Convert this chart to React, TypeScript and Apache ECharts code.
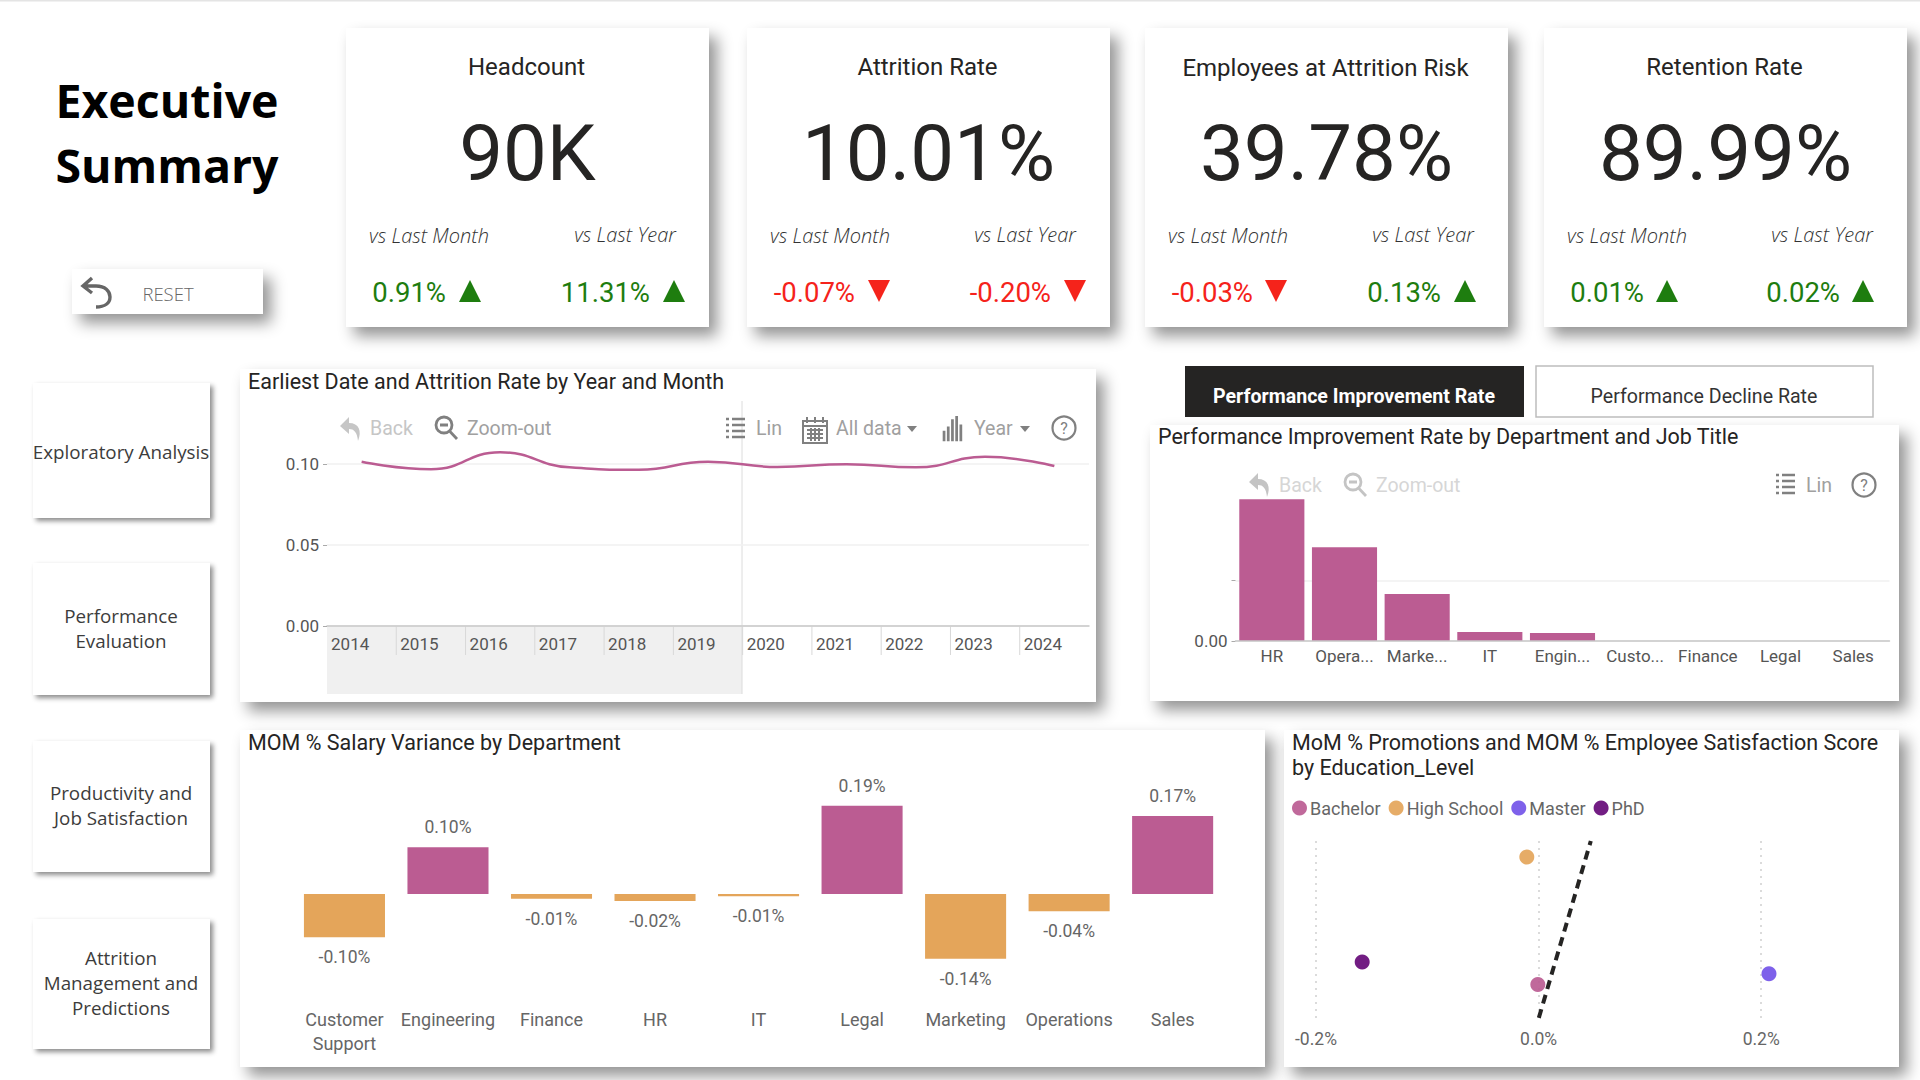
import React, { useEffect, useRef } from "react";
import * as echarts from "echarts";

// ---------- data ----------
const years = ["2014", "2015", "2016", "2017", "2018", "2019", "2020", "2021", "2022", "2023", "2024"];
const attritionRate = [0.1015, 0.0969, 0.1073, 0.098, 0.0965, 0.1015, 0.0983, 0.1, 0.098, 0.1045, 0.0988];
const perfDepartments = ["HR", "Opera...", "Marke...", "IT", "Engin...", "Custo...", "Finance", "Legal", "Sales"];
const perfImprovement = [0.1175, 0.0777, 0.039, 0.0075, 0.0066, 0, 0, 0, 0];
const salaryDepartments = ["Customer\nSupport", "Engineering", "Finance", "HR", "IT", "Legal", "Marketing", "Operations", "Sales"];
const salaryVariance = [-0.0952, 0.1026, -0.0102, -0.0154, -0.0051, 0.194, -0.142, -0.038, 0.1714];
const educationLevels = ["Bachelor", "High School", "Master", "PhD"];
const promotionsMoM = [-0.0007, -0.0106, 0.207, -0.1585];
const satisfactionMoM = [0.0245, 0.4466, 0.0597, 0.0985];
const trendX = [0.0002, 0.0469];
const trendY = [-0.0862, 0.5];
const kpiTitles = ["Headcount", "Attrition Rate", "Employees at Attrition Risk", "Retention Rate"];
const kpiValues = ["90K", "10.01%", "39.78%", "89.99%"];
const kpiMonth = ["0.91%", "-0.07%", "-0.03%", "0.01%"];
const kpiYear = ["11.31%", "-0.20%", "0.13%", "0.02%"];
const navItems = ["Exploratory Analysis", "Performance\nEvaluation", "Productivity and\nJob Satisfaction", "Attrition\nManagement and\nPredictions"];

// ---------- styles ----------
const PINK = "#BB5C92";
const ORANGE = "#E4A55A";
const GREEN = "#1E7D0F";
const RED = "#F5231B";
const DIN = "Roboto, sans-serif";
const SEGOE = "'Open Sans', sans-serif";
const eduColors = ["#BB5C92", "#E4A55A", "#7354E8", "#660A78"];

// ---------- icons ----------
const icons: Record<string, string> = {
  icBack: "M9 0 L0 9 L9 17 V12 C14 12 17 15 18 24 C22 14 19 6 9 6 Z",
  icZoom: "M9 1 A8 8 0 1 0 9 17 A8 8 0 1 0 9 1 M14.5 15 L22 23 M5 9 H13",
  icList: "M0 1 H3 M6 1 H19 M0 7 H3 M6 7 H19 M0 13 H3 M6 13 H19 M0 19 H3 M6 19 H19",
  icCal: "M1 4 H25 V26 H1 Z M1 9 H25 M5 0 V6 M13 0 V6 M21 0 V6 M5 13 H21 M5 17 H21 M5 21 H21 M9 11 V24 M13 11 V24 M17 11 V24",
  icBars: "M1 24 V14 M5 24 V10 M9 24 V3 M13 24 V0 M17 24 V8",
  icReset: "M11 1 L2 9 L11 16 M2 9 H15 C24 9 29 14 29 20 C29 26 24 30 15 30",
};
Object.keys(icons).forEach((k) => echarts.graphic.registerShape(k, echarts.graphic.extendPath(icons[k], {})));

const shadow = { shadowBlur: 15, shadowColor: "rgba(0,0,0,0.42)", shadowOffsetX: 8, shadowOffsetY: 9 };
const smallShadow = { shadowBlur: 5, shadowColor: "rgba(0,0,0,0.45)", shadowOffsetX: 3, shadowOffsetY: 3 };

function card(x: number, y: number, w: number, h: number, sh: any = shadow) {
  return { type: "rect", z: 0, silent: true, shape: { x, y, width: w, height: h }, style: { fill: "#fff", ...sh } };
}
function label(text: string, x: number, y: number, fontSize: number, fill: string, extra: any = {}) {
  return {
    type: "text", z: 10, silent: true, x, y,
    style: { text, fontSize, fill, fontFamily: DIN, align: "center", verticalAlign: "middle", ...extra },
  };
}
function triangle(x: number, up: boolean) {
  const t = 280, b = 302, w = 22;
  const pts = up
    ? [[x, b], [x + w / 2, t], [x + w, b]]
    : [[x, t], [x + w, t], [x + w / 2, b]];
  return { type: "polygon", z: 10, silent: true, shape: { points: pts }, style: { fill: up ? GREEN : RED } };
}
function icon(type: string, x: number, y: number, color: string, s = 1, filled = false, lw = 2) {
  return {
    type, z: 10, silent: true, x, y, scaleX: s, scaleY: s,
    style: filled ? { fill: color, stroke: "none" } : { fill: "none", stroke: color, lineWidth: lw },
  };
}
function caret(x: number, y: number, color: string) {
  return { type: "polygon", z: 10, silent: true, shape: { points: [[x, y], [x + 10, y], [x + 5, y + 6]] }, style: { fill: color } };
}
function helpIcon(cx: number, cy: number, color: string) {
  return [
    { type: "circle", z: 10, silent: true, shape: { cx, cy, r: 11.5 }, style: { fill: "none", stroke: color, lineWidth: 2.2 } },
    label("?", cx, cy, 16, color),
  ];
}

function buildGraphics() {
  const els: any[] = [];
  // top edge
  els.push({ type: "rect", z: 0, silent: true, shape: { x: 0, y: 0, width: 1920, height: 1.5 }, style: { fill: "#e4e4e4" } });

  // heading
  els.push(label("Executive", 167, 100, 46.5, "#000", { fontFamily: SEGOE, fontWeight: 700 }));
  els.push(label("Summary", 167, 165, 46.5, "#000", { fontFamily: SEGOE, fontWeight: 700 }));

  // reset
  els.push(card(72, 269, 191, 45));
  els.push(icon("icReset", 81, 277, "#666", 1, false, 3.4));
  els.push(label("RESET", 168, 293, 18.5, "#666", { fontFamily: SEGOE, fontWeight: 300 }));

  // KPI cards
  const cardX = [346, 747, 1145, 1544];
  const monthX = [429, 830, 1228, 1627];
  const yearX = [625, 1025, 1423, 1822];
  const pctMonthR = [446, 855, 1253, 1644];
  const pctYearR = [650, 1051, 1441, 1840];
  const triMonth = [459, 868, 1265, 1656];
  const triYear = [663, 1064, 1454, 1852];
  kpiTitles.forEach((t, i) => {
    const x = cardX[i];
    const cx = x + 181.5;
    els.push(card(x, 28, 363, 299));
    els.push(label(t, cx - 1, i === 2 ? 68 : 67, 24, "#252423"));
    els.push(label(kpiValues[i], cx, 153, 78, "#252423"));
    els.push(label("vs Last Month", monthX[i], 235, 20, "#333", { fontFamily: SEGOE, fontStyle: "italic", fontWeight: 300 }));
    els.push(label("vs Last Year", yearX[i], 234, 20, "#333", { fontFamily: SEGOE, fontStyle: "italic", fontWeight: 300 }));
    const mUp = !kpiMonth[i].startsWith("-");
    const yUp = !kpiYear[i].startsWith("-");
    els.push(label(kpiMonth[i], pctMonthR[i], 292, 27.5, mUp ? GREEN : RED, { align: "right" }));
    els.push(label(kpiYear[i], pctYearR[i], 292, 27.5, yUp ? GREEN : RED, { align: "right" }));
    els.push(triangle(triMonth[i], mUp));
    els.push(triangle(triYear[i], yUp));
  });

  // nav buttons
  const navY = [383, 563, 741, 919];
  const navH = [135, 132, 131, 130];
  const navTextY = [452, 628, 805, 983];
  navItems.forEach((t, i) => {
    els.push(card(33, navY[i], 177, navH[i], smallShadow));
    els.push(label(t, 121, navTextY[i], 18.8, "#3c3c3c", { fontFamily: SEGOE, fontWeight: 400, lineHeight: 25 }));
  });

  // chart cards
  els.push(card(240, 369, 856, 333));
  els.push(card(1150, 425, 749, 276));
  els.push(card(240, 730, 1025, 337));
  els.push(card(1284, 730, 615, 337));

  // tab buttons
  els.push({ type: "rect", z: 1, silent: true, shape: { x: 1185, y: 366, width: 339, height: 51 }, style: { fill: "#252423" } });
  els.push(label("Performance Improvement Rate", 1354, 396, 19.6, "#fff", { fontWeight: 700 }));
  els.push({ type: "rect", z: 1, silent: true, shape: { x: 1536, y: 366, width: 337, height: 51 }, style: { fill: "#fff", stroke: "#bdbdbd", lineWidth: 1.5 } });
  els.push(label("Performance Decline Rate", 1704, 396, 19.6, "#333"));

  // date slicer band on the line chart
  els.push({ type: "rect", z: 1, silent: true, shape: { x: 327, y: 626, width: 415, height: 68 }, style: { fill: "#f0f0f0" } });
  els.push({ type: "line", z: 2, silent: true, shape: { x1: 742, y1: 401, x2: 742, y2: 694 }, style: { stroke: "#dcdcdc", lineWidth: 1 } });
  for (let i = 1; i < years.length; i++) {
    const x = 327 + (762 / 11) * i;
    els.push({ type: "line", z: 2, silent: true, shape: { x1: x, y1: 626, x2: x, y2: 655 }, style: { stroke: "#d8d8d8", lineWidth: 1 } });
  }

  // toolbar of the line chart
  const light = "#c6c6c6";
  const mid = "#a0a0a0";
  const dark = "#808080";
  els.push(icon("icBack", 340, 417, light, 1, true));
  els.push(label("Back", 370, 428, 19.5, light, { align: "left" }));
  els.push(icon("icZoom", 435, 416, dark, 1, false, 2.8));
  els.push(label("Zoom-out", 467, 428, 19.5, mid, { align: "left" }));
  els.push(icon("icList", 726, 418, dark, 1, false, 2.4));
  els.push(label("Lin", 756, 428, 19.5, mid, { align: "left" }));
  els.push(icon("icCal", 802, 417, dark, 1, false, 2));
  els.push(label("All data", 836, 428, 19.5, mid, { align: "left" }));
  els.push(caret(907, 426, dark));
  els.push(icon("icBars", 943, 416, dark, 1.05, false, 2.6));
  els.push(label("Year", 974, 428, 19.5, mid, { align: "left" }));
  els.push(caret(1020, 426, dark));
  els.push(...helpIcon(1064, 428, dark));

  // toolbar of the bar chart
  const lighter = "#d6d6d6";
  els.push(icon("icBack", 1249, 473, "#c4c4c4", 1, true));
  els.push(label("Back", 1279, 485, 19.5, lighter, { align: "left" }));
  els.push(icon("icZoom", 1344, 473, "#c4c4c4", 1, false, 2.8));
  els.push(label("Zoom-out", 1376, 485, 19.5, lighter, { align: "left" }));
  els.push(icon("icList", 1776, 474, dark, 1, false, 2.4));
  els.push(label("Lin", 1806, 485, 19.5, mid, { align: "left" }));
  els.push(...helpIcon(1864, 485, dark));
  return els;
}

function titleOf(text: string, left: number, top: number) {
  return { text, left, top, padding: 0, textStyle: { fontFamily: DIN, fontSize: 21.5, fontWeight: 400, color: "#252423", lineHeight: 25 } };
}

function buildOption() {
  const axisText = { fontFamily: DIN, fontSize: 17, color: "#555" };
  return {
    animation: false,
    backgroundColor: "#fff",
    graphic: { elements: buildGraphics() },
    title: [
      titleOf("Earliest Date and Attrition Rate by Year and Month", 248, 369),
      titleOf("Performance Improvement Rate by Department and Job Title", 1158, 424),
      titleOf("MOM % Salary Variance by Department", 248, 730),
      titleOf("MoM % Promotions and MOM % Employee Satisfaction Score\nby Education_Level", 1292, 730),
    ],
    legend: {
      data: educationLevels,
      left: 1292,
      top: 799,
      icon: "circle",
      itemWidth: 15,
      itemHeight: 15,
      itemGap: 8,
      padding: 0,
      textStyle: { fontFamily: DIN, fontSize: 18, color: "#666", padding: [0, 0, 0, -2] },
    },
    grid: [
      { left: 327, width: 762, top: 401, height: 225 },
      { left: 1235.5, width: 654, top: 499.3, height: 141.7 },
      { left: 292.7, width: 931.7, top: 780.25, height: 229.75 },
      { left: 1316, width: 556.5, top: 841, height: 181 },
    ],
    xAxis: [
      {
        gridIndex: 0, type: "category", data: years, boundaryGap: true, z: 5,
        axisLine: { lineStyle: { color: "#c8c8c8", width: 1.5 } },
        axisTick: { show: false },
        axisLabel: { ...axisText, margin: 9, padding: [0, 23, 0, 0], interval: 0 },
      },
      {
        gridIndex: 1, type: "category", data: perfDepartments, z: 5,
        axisLine: { lineStyle: { color: "#c8c8c8", width: 1.5 } },
        axisTick: { show: false },
        axisLabel: { ...axisText, margin: 6, interval: 0 },
      },
      {
        gridIndex: 2, type: "category", data: salaryDepartments, z: 5,
        axisLine: { show: false },
        axisTick: { show: false },
        axisLabel: { ...axisText, fontSize: 18, color: "#666", margin: -3, interval: 0, lineHeight: 24, verticalAlign: "top" },
      },
      {
        gridIndex: 3, type: "value", min: -0.2, max: 0.3, z: 1,
        axisLine: { show: false },
        axisTick: { show: false, customValues: [-0.2, 0, 0.2] },
        axisLabel: { ...axisText, fontSize: 17.5, color: "#666", margin: 8, customValues: [-0.2, 0, 0.2], formatter: (v: number) => `${v.toFixed(1)}%` },
        splitLine: { show: true, lineStyle: { color: "#cfcfcf", type: [2, 5], width: 1.5 } },
      },
    ],
    yAxis: [
      {
        gridIndex: 0, type: "value", min: 0, max: 0.139, z: 5,
        axisLine: { show: false },
        axisTick: { show: true, length: 4, lineStyle: { color: "#aaa" }, customValues: [0, 0.05, 0.1] },
        axisLabel: { ...axisText, margin: 8, customValues: [0, 0.05, 0.1], formatter: (v: number) => v.toFixed(2) },
        splitLine: { show: true, lineStyle: { color: "#f1f1f1", width: 1.5 } },
      },
      {
        gridIndex: 1, type: "value", min: 0, max: 0.1175, z: 1,
        axisLine: { show: false },
        axisTick: { show: true, length: 4, lineStyle: { color: "#aaa" }, customValues: [0, 0.05] },
        axisLabel: { ...axisText, margin: 8, customValues: [0], formatter: (v: number) => v.toFixed(2) },
        splitLine: { show: true, lineStyle: { color: "#f1f1f1", width: 1.5 } },
      },
      {
        gridIndex: 2, type: "value", min: -0.2549, max: 0.25, show: false,
        splitLine: { show: false },
      },
      {
        gridIndex: 3, type: "value", min: -0.1, max: 0.5, show: false,
        splitLine: { show: false },
      },
    ],
    series: [
      {
        type: "line", name: "Attrition Rate", xAxisIndex: 0, yAxisIndex: 0, data: attritionRate,
        smooth: 0.5, showSymbol: false, z: 6, lineStyle: { color: PINK, width: 2.5 },
      },
      {
        type: "bar", name: "Performance Improvement Rate", xAxisIndex: 1, yAxisIndex: 1, data: perfImprovement,
        barWidth: "89.6%", z: 3, itemStyle: { color: PINK },
      },
      {
        type: "bar", name: "MOM % Salary Variance", xAxisIndex: 2, yAxisIndex: 2,
        data: salaryVariance.map((v) => ({
          value: v,
          itemStyle: { color: v >= 0 ? PINK : ORANGE },
          label: { position: v >= 0 ? "top" : "bottom" },
        })),
        barWidth: "78.3%", z: 6,
        label: {
          show: true, distance: 11, fontFamily: DIN, fontSize: 17.5, color: "#666",
          formatter: (p: any) => `${p.value.toFixed(2)}%`,
        },
      },
      {
        type: "line", name: "Trend", xAxisIndex: 3, yAxisIndex: 3,
        data: trendX.map((x, i) => [x, trendY[i]]),
        showSymbol: false, z: 6, lineStyle: { color: "#252423", width: 4, type: [9, 6] },
      },
      ...educationLevels.map((name, i) => ({
        type: "scatter", name, xAxisIndex: 3, yAxisIndex: 3,
        data: [[promotionsMoM[i], satisfactionMoM[i]]],
        symbolSize: 15, z: 7, itemStyle: { color: eduColors[i], opacity: 0.92 },
      })),
    ],
  };
}

export default function App() {
  const ref = useRef<HTMLDivElement>(null);
  useEffect(() => {
    const chart = echarts.init(ref.current!, null, { renderer: "svg" });
    chart.setOption(buildOption() as any);
    return () => chart.dispose();
  }, []);
  return <div ref={ref} style={{ position: "absolute", left: 0, top: 0, width: 1920, height: 1080 }} />;
}
